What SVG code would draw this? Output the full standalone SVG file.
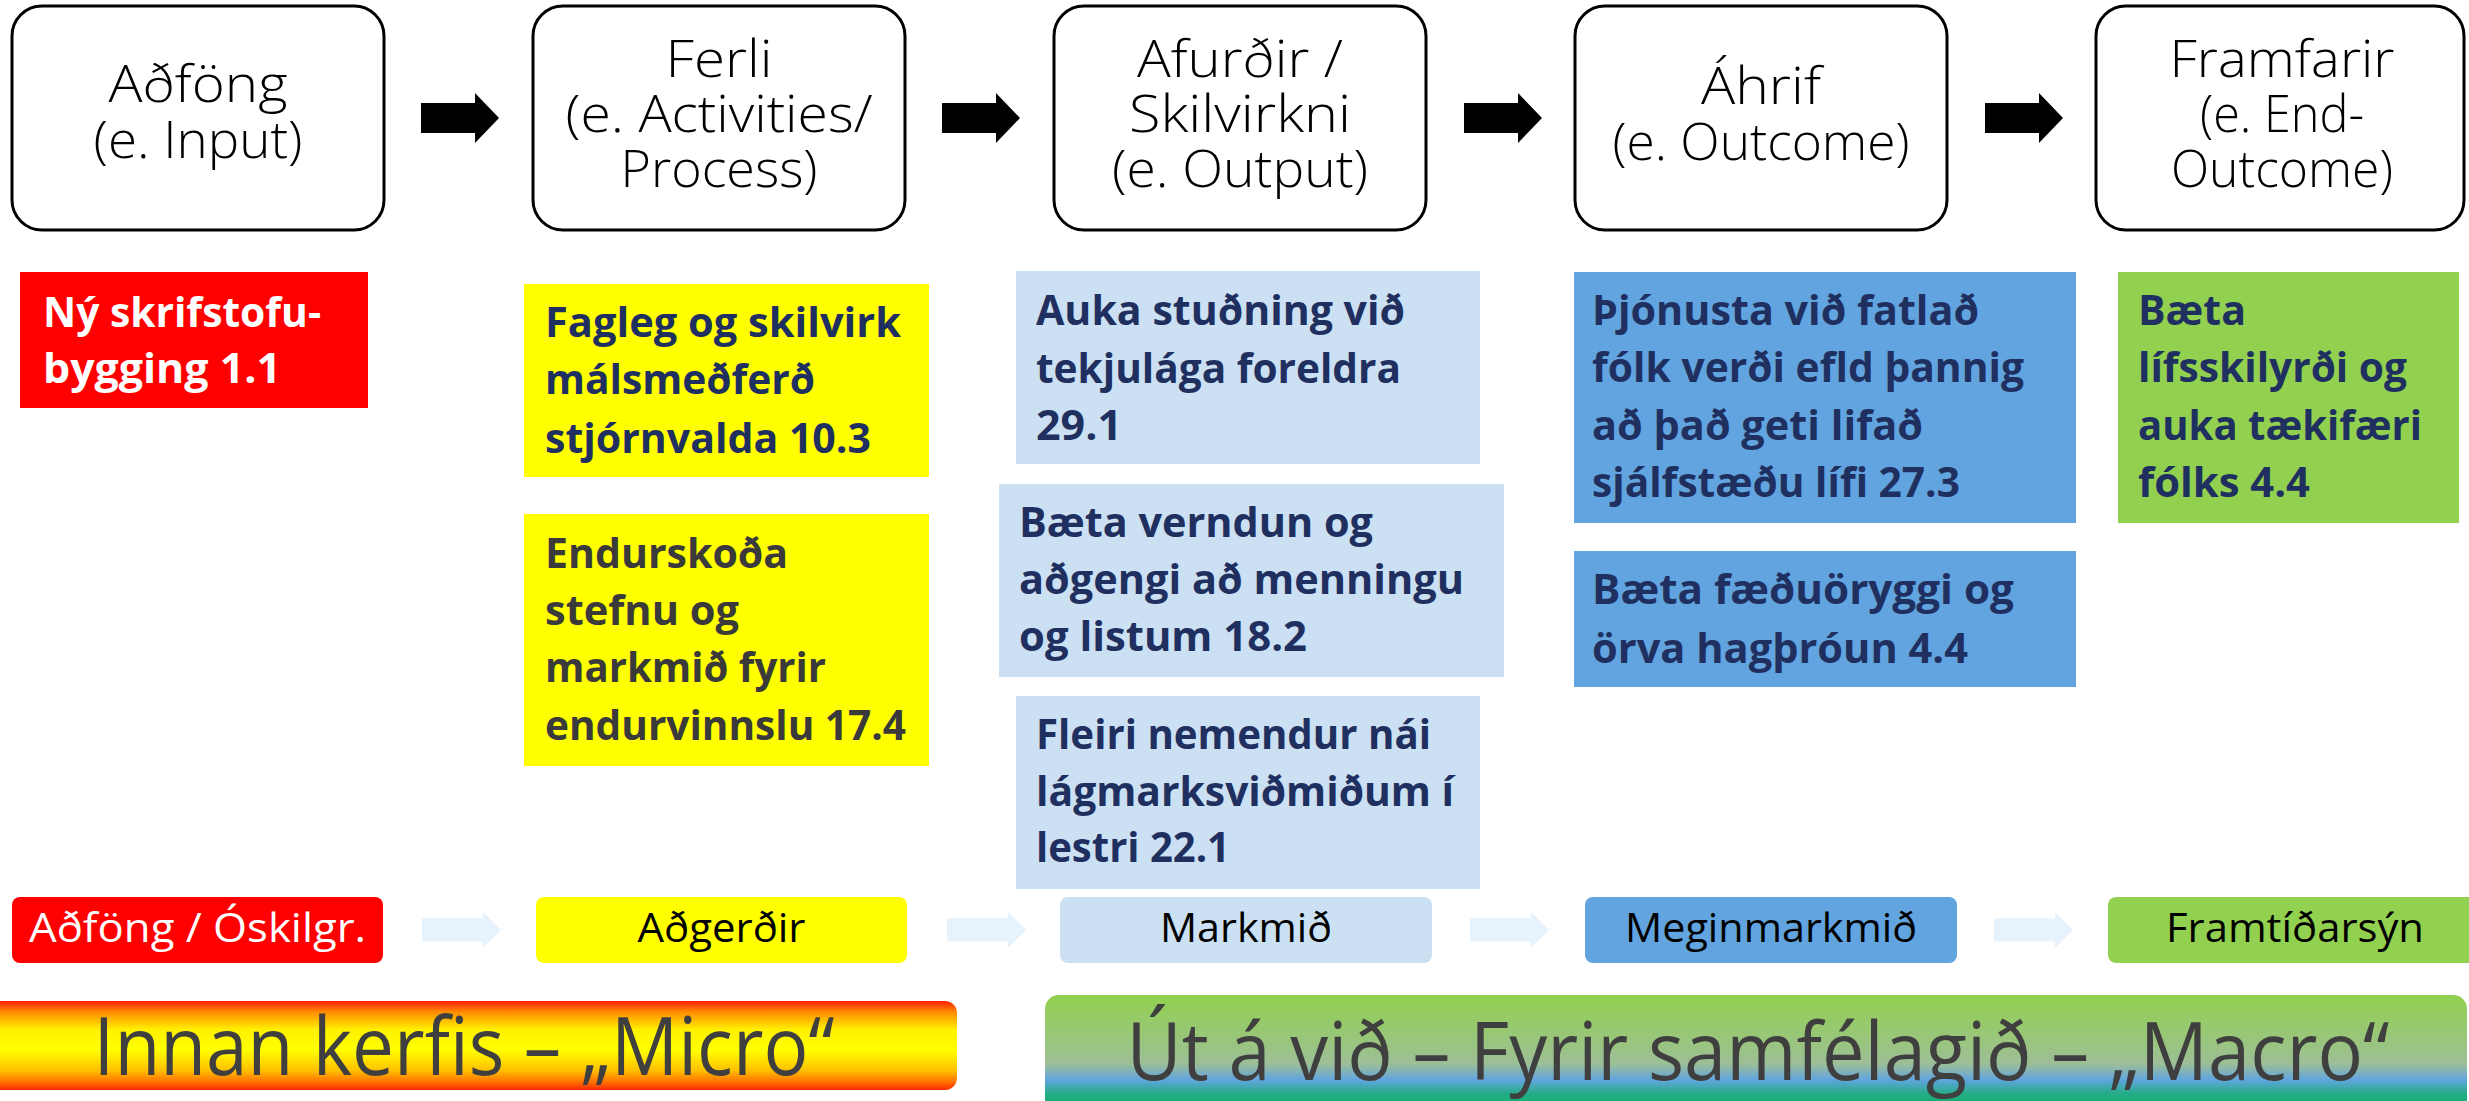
<svg xmlns="http://www.w3.org/2000/svg" xmlns:xlink="http://www.w3.org/1999/xlink" width="2469" height="1101" viewBox="0 0 2469 1101">
<style>
.stage{fill:#fff;stroke:#000;stroke-width:3}
.st{font-family:"Open Sans","Noto Sans","DejaVu Sans",sans-serif;font-weight:300;font-size:52px;text-anchor:middle;fill:#000}
.bx{font-family:"Open Sans","Noto Sans","DejaVu Sans",sans-serif;font-weight:700;font-size:42px;fill:#1F3060}
.gr{fill:#3A3A3A}
.wh{fill:#fff}
.lbl{font-family:"Open Sans","Noto Sans","DejaVu Sans",sans-serif;font-weight:400;font-size:40px;text-anchor:middle;fill:#000}
.big{font-family:"Open Sans","Noto Sans","DejaVu Sans",sans-serif;font-weight:400;font-size:80px;text-anchor:middle;fill:#3F3F3F}
.red{fill:#FF0000}.yel{fill:#FFFF00}.lb{fill:#CBE0F3}.blu{fill:#62A4DF}.grn{fill:#92D050}
.blk{fill:#000}.lgt{fill:#E6F2FC}
</style>
<defs>
<path id="arrBlk" d="M0,-15 H54 V-25 L78,0 L54,25 V15 H0 Z"/>
<path id="arrLgt" d="M0,-11.5 H61 V-18 L79,0 L61,18 V11.5 H0 Z"/>
<linearGradient id="gMicro" x1="0" y1="0" x2="0" y2="1">
<stop offset="0" stop-color="#FF1E00"/>
<stop offset="0.12" stop-color="#FF8A00"/>
<stop offset="0.32" stop-color="#FFF000"/>
<stop offset="0.55" stop-color="#FFFF00"/>
<stop offset="0.78" stop-color="#FFC000"/>
<stop offset="0.92" stop-color="#FF6A00"/>
<stop offset="1" stop-color="#FF2800"/>
</linearGradient>
<linearGradient id="gMacro" gradientUnits="userSpaceOnUse" x1="0" y1="995" x2="0" y2="1101">
<stop offset="0" stop-color="#92D050"/>
<stop offset="0.45" stop-color="#9AC57F"/>
<stop offset="0.65" stop-color="#9DBE97"/>
<stop offset="0.8" stop-color="#62A5E0"/>
<stop offset="0.93" stop-color="#24AC86"/>
<stop offset="1" stop-color="#1AAE78"/>
</linearGradient>
</defs>

<g id="stage-input">
<rect class="stage" x="12" y="6" width="372" height="224" rx="30"/>
<text class="st" x="198" y="102" textLength="179" lengthAdjust="spacingAndGlyphs">Aðföng</text>
<text class="st" x="198" y="158" textLength="209" lengthAdjust="spacingAndGlyphs">(e. Input)</text>
</g>
<g id="stage-process">
<rect class="stage" x="533" y="6" width="372" height="224" rx="30"/>
<text class="st" x="719" y="77" textLength="107" lengthAdjust="spacingAndGlyphs">Ferli</text>
<text class="st" x="719" y="132" textLength="307" lengthAdjust="spacingAndGlyphs">(e. Activities/</text>
<text class="st" x="719" y="187" textLength="197" lengthAdjust="spacingAndGlyphs">Process)</text>
</g>
<g id="stage-output">
<rect class="stage" x="1054" y="6" width="372" height="224" rx="30"/>
<text class="st" x="1240" y="77" textLength="206" lengthAdjust="spacingAndGlyphs">Afurðir /</text>
<text class="st" x="1240" y="132" textLength="222" lengthAdjust="spacingAndGlyphs">Skilvirkni</text>
<text class="st" x="1240" y="187" textLength="256" lengthAdjust="spacingAndGlyphs">(e. Output)</text>
</g>
<g id="stage-outcome">
<rect class="stage" x="1575" y="6" width="372" height="224" rx="30"/>
<text class="st" x="1761" y="104" textLength="120" lengthAdjust="spacingAndGlyphs">Áhrif</text>
<text class="st" x="1761" y="160" textLength="297" lengthAdjust="spacingAndGlyphs">(e. Outcome)</text>
</g>
<g id="stage-endoutcome">
<rect class="stage" x="2096" y="6" width="368" height="224" rx="30"/>
<text class="st" x="2282" y="77" textLength="225" lengthAdjust="spacingAndGlyphs">Framfarir</text>
<text class="st" x="2282" y="132" textLength="164" lengthAdjust="spacingAndGlyphs">(e. End-</text>
<text class="st" x="2282" y="187" textLength="222" lengthAdjust="spacingAndGlyphs">Outcome)</text>
</g>

<g id="box-skrifstofa">
<rect class="red" x="20" y="272" width="348" height="136"/>
<text class="bx wh" x="43" y="327" textLength="278" lengthAdjust="spacingAndGlyphs">Ný skrifstofu-</text>
<text class="bx wh" x="43" y="383" textLength="238" lengthAdjust="spacingAndGlyphs">bygging 1.1</text>
</g>
<g id="box-malsmedferd">
<rect class="yel" x="524" y="284" width="405" height="193"/>
<text class="bx" x="545" y="337" textLength="356" lengthAdjust="spacingAndGlyphs">Fagleg og skilvirk</text>
<text class="bx" x="545" y="394" textLength="270" lengthAdjust="spacingAndGlyphs">málsmeðferð</text>
<text class="bx" x="545" y="453" textLength="326" lengthAdjust="spacingAndGlyphs">stjórnvalda 10.3</text>
</g>
<g id="box-endurvinnsla">
<rect class="yel" x="524" y="514" width="405" height="252"/>
<text class="bx gr" x="545" y="568" textLength="243" lengthAdjust="spacingAndGlyphs">Endurskoða</text>
<text class="bx gr" x="545" y="625" textLength="194" lengthAdjust="spacingAndGlyphs">stefnu og</text>
<text class="bx gr" x="545" y="682" textLength="281" lengthAdjust="spacingAndGlyphs">markmið fyrir</text>
<text class="bx gr" x="545" y="740" textLength="361" lengthAdjust="spacingAndGlyphs">endurvinnslu 17.4</text>
</g>
<g id="box-studningur">
<rect class="lb" x="1016" y="271" width="464" height="193"/>
<text class="bx" x="1036" y="325" textLength="369" lengthAdjust="spacingAndGlyphs">Auka stuðning við</text>
<text class="bx" x="1036" y="383" textLength="365" lengthAdjust="spacingAndGlyphs">tekjulága foreldra</text>
<text class="bx" x="1036" y="440" textLength="86" lengthAdjust="spacingAndGlyphs">29.1</text>
</g>
<g id="box-menning">
<rect class="lb" x="999" y="484" width="505" height="193"/>
<text class="bx" x="1019" y="537" textLength="354" lengthAdjust="spacingAndGlyphs">Bæta verndun og</text>
<text class="bx" x="1019" y="594" textLength="445" lengthAdjust="spacingAndGlyphs">aðgengi að menningu</text>
<text class="bx" x="1019" y="651" textLength="288" lengthAdjust="spacingAndGlyphs">og listum 18.2</text>
</g>
<g id="box-lestur">
<rect class="lb" x="1016" y="696" width="464" height="193"/>
<text class="bx" x="1036" y="749" textLength="395" lengthAdjust="spacingAndGlyphs">Fleiri nemendur nái</text>
<text class="bx" x="1036" y="806" textLength="418" lengthAdjust="spacingAndGlyphs">lágmarksviðmiðum í</text>
<text class="bx" x="1036" y="862" textLength="194" lengthAdjust="spacingAndGlyphs">lestri 22.1</text>
</g>
<g id="box-fatlad">
<rect class="blu" x="1574" y="272" width="502" height="251"/>
<text class="bx" x="1592" y="325" textLength="387" lengthAdjust="spacingAndGlyphs">Þjónusta við fatlað</text>
<text class="bx" x="1592" y="382" textLength="432" lengthAdjust="spacingAndGlyphs">fólk verði efld þannig</text>
<text class="bx" x="1592" y="440" textLength="331" lengthAdjust="spacingAndGlyphs">að það geti lifað</text>
<text class="bx" x="1592" y="497" textLength="368" lengthAdjust="spacingAndGlyphs">sjálfstæðu lífi 27.3</text>
</g>
<g id="box-faeduoryggi">
<rect class="blu" x="1574" y="551" width="502" height="136"/>
<text class="bx" x="1592" y="604" textLength="422" lengthAdjust="spacingAndGlyphs">Bæta fæðuöryggi og</text>
<text class="bx" x="1592" y="663" textLength="376" lengthAdjust="spacingAndGlyphs">örva hagþróun 4.4</text>
</g>
<g id="box-lifsskilyrdi">
<rect class="grn" x="2118" y="272" width="341" height="251"/>
<text class="bx" x="2138" y="325" textLength="108" lengthAdjust="spacingAndGlyphs">Bæta</text>
<text class="bx" x="2138" y="382" textLength="269" lengthAdjust="spacingAndGlyphs">lífsskilyrði og</text>
<text class="bx" x="2138" y="440" textLength="284" lengthAdjust="spacingAndGlyphs">auka tækifæri</text>
<text class="bx" x="2138" y="497" textLength="172" lengthAdjust="spacingAndGlyphs">fólks 4.4</text>
</g>

<g id="label-adfong">
<rect class="red" x="12" y="897" width="371" height="66" rx="8"/>
<text class="lbl" x="197.5" y="942" fill="#fff" style="fill:#fff" textLength="337" lengthAdjust="spacingAndGlyphs">Aðföng / Óskilgr.</text>
</g>
<g id="label-adgerdir">
<rect class="yel" x="536" y="897" width="371" height="66" rx="8"/>
<text class="lbl" x="721.5" y="942" textLength="168" lengthAdjust="spacingAndGlyphs">Aðgerðir</text>
</g>
<g id="label-markmid">
<rect class="lb" x="1060" y="897" width="372" height="66" rx="8"/>
<text class="lbl" x="1246" y="942" textLength="172" lengthAdjust="spacingAndGlyphs">Markmið</text>
</g>
<g id="label-meginmarkmid">
<rect class="blu" x="1585" y="897" width="372" height="66" rx="8"/>
<text class="lbl" x="1771" y="942" textLength="292" lengthAdjust="spacingAndGlyphs">Meginmarkmið</text>
</g>
<g id="label-framtidarsyn">
<rect class="grn" x="2108" y="897" width="372" height="66" rx="8"/>
<text class="lbl" x="2295" y="942" textLength="258" lengthAdjust="spacingAndGlyphs">Framtíðarsýn</text>
</g>

<g id="band-micro">
<rect x="-20" y="1001" width="977" height="89" rx="12" fill="url(#gMicro)"/>
<text class="big" x="464" y="1075" textLength="741" lengthAdjust="spacingAndGlyphs">Innan kerfis – „Micro“</text>
</g>
<g id="band-macro">
<rect x="1045" y="995" width="1422" height="125" rx="14" fill="url(#gMacro)"/>
<text class="big" x="1758" y="1080" textLength="1263" lengthAdjust="spacingAndGlyphs">Út á við – Fyrir samfélagið – „Macro“</text>
</g>

<g id="connectors">
<use href="#arrBlk" xlink:href="#arrBlk" class="blk" x="421" y="118"/>
<use href="#arrBlk" xlink:href="#arrBlk" class="blk" x="942" y="118"/>
<use href="#arrBlk" xlink:href="#arrBlk" class="blk" x="1464" y="118"/>
<use href="#arrBlk" xlink:href="#arrBlk" class="blk" x="1985" y="118"/>
<use href="#arrLgt" xlink:href="#arrLgt" class="lgt" x="422" y="930"/>
<use href="#arrLgt" xlink:href="#arrLgt" class="lgt" x="947" y="930"/>
<use href="#arrLgt" xlink:href="#arrLgt" class="lgt" x="1470" y="930"/>
<use href="#arrLgt" xlink:href="#arrLgt" class="lgt" x="1994" y="930"/>
</g>
</svg>
